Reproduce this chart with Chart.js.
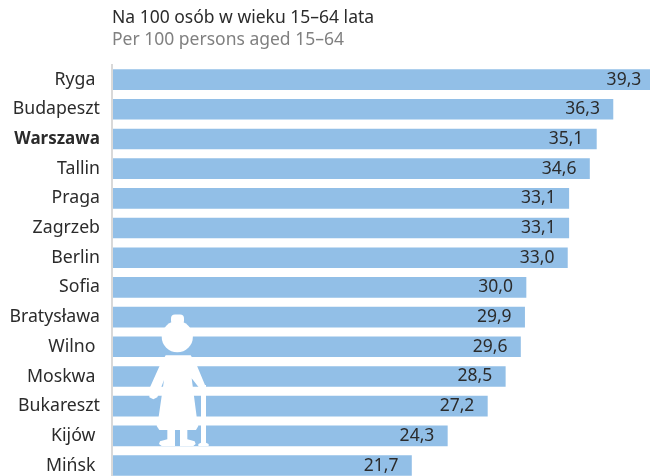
<!DOCTYPE html>
<html><head><meta charset="utf-8">
<style>html,body{margin:0;padding:0;background:#fff;overflow:hidden;width:650px;height:476px}canvas{display:block}</style>
<script src="https://cdn.jsdelivr.net/npm/chart.js@4"></script>
</head><body><canvas id="c" width="670" height="503" style="width:670px;height:503px"></canvas>
<script>
const categories = ["Ryga ","Budapeszt","Warszawa","Tallin","Praga","Zagrzeb","Berlin","Sofia","Bratysława","Wilno ","Moskwa ","Bukareszt","Kijów ","Mińsk "];
const values = [39.3,36.3,35.1,34.6,33.1,33.1,33.0,30.0,29.9,29.6,28.5,27.2,24.3,21.7];
const titleText = "Na 100 osób w wieku 15–64 lata";
const subtitleText = "Per 100 persons aged 15–64";
const highlighted = "Warszawa";
const FONT = '"Noto Sans", sans-serif';
const barLabels = {
  id:'barLabels',
  afterDatasetsDraw(chart){
    const ctx=chart.ctx, meta=chart.getDatasetMeta(0);
    ctx.save();
    ctx.font='17.5px '+FONT; ctx.fillStyle='#2b2b2b'; ctx.textAlign='right'; ctx.textBaseline='middle';
    meta.data.forEach((b,i)=>ctx.fillText(values[i].toFixed(1).replace('.',','), b.x-13, b.y));
    ctx.restore();
  }
};
const figure = {
  id:'figure',
  afterDraw(chart){
    const c=chart.ctx;
    c.save(); c.fillStyle='#fff'; c.strokeStyle='#fff'; c.lineJoin='round';
    const Z=(x,y)=>[100+x/3,300+y/3];
    const poly=(pts)=>{c.beginPath();pts.forEach((p,i)=>{const q=Z(p[0],p[1]);i?c.lineTo(q[0],q[1]):c.moveTo(q[0],q[1]);});c.closePath();c.fill();};
    // bun
    c.beginPath(); c.roundRect(171,314.5,13,10,4); c.fill();
    // head
    c.beginPath(); c.arc(177.3,336.7,15.6,0,Math.PI*2); c.fill();
    // torso, arms, dress
    poly([[197,166],[272,166],[290,195],[315,255],[317,262],[296,262],[275,235],[290,350],[295,378],[288,390],[178,390],[170,378],[176,350],[192,240],[172,292],[160,298],[148,292],[150,262],[180,195]]);
    // cane
    poly([[303,255],[318,255],[318,428],[326,432],[326,438],[295,438],[295,432],[303,428]]);
    // legs
    poly([[202,385],[225,385],[225,438],[185,438],[177,432],[180,424],[202,418]]);
    poly([[240,385],[262,385],[262,418],[284,424],[287,432],[280,438],[240,438]]);
    c.restore();
  }
};
new Chart(document.getElementById('c'),{
  type:'bar',
  data:{labels:categories,datasets:[{data:values,backgroundColor:'#92bfe7',borderWidth:0,barThickness:20}]},
  plugins:[barLabels,figure],
  options:{
    indexAxis:'y',responsive:false,animation:false,
    layout:{padding:{left:0,right:6,top:0,bottom:9.5}},
    plugins:{
      legend:{display:false},tooltip:{enabled:false},
      title:{display:true,text:titleText,align:'start',fullSize:false,color:'#2b2b2b',font:{family:FONT,size:17.5,weight:'normal',lineHeight:1.25},padding:{top:7,bottom:0}},
      subtitle:{display:true,text:subtitleText,align:'start',fullSize:false,color:'#808080',font:{family:FONT,size:17.5,weight:'normal',lineHeight:1.25},padding:{top:0,bottom:14}}
    },
    scales:{
      x:{display:false,min:0,max:40},
      y:{
        afterFit(s){s.width=112;},
        grid:{display:false,drawTicks:false},
        border:{display:true,color:'#d9d9d9',width:2,z:1},
        ticks:{padding:12,color:'#2b2b2b',autoSkip:false,
          font:(ctx)=>{const b=String(categories[ctx.index]).trim()===highlighted;return {family:FONT,size:b?17:17.7,weight:b?'bold':'normal'};}}
      }
    }
  }
});
</script></body></html>
